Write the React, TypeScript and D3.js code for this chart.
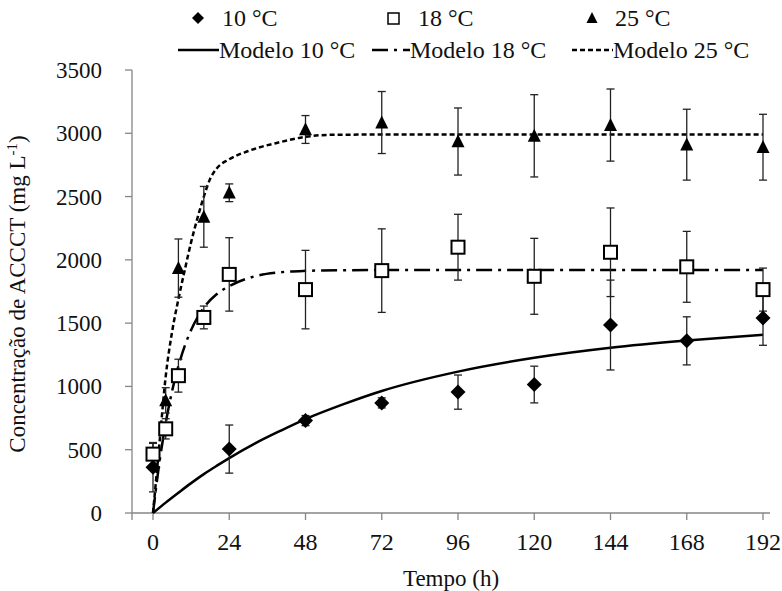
import React from "react";
import * as d3 from "d3";

const times10 = [0, 24, 48, 72, 96, 120, 144, 168, 192];
const mean10 = [362, 505, 730, 870, 955, 1015, 1485, 1360, 1540];
const err10 = [195, 190, 40, 40, 135, 145, 355, 190, 215];

const times18 = [0, 4, 8, 16, 24, 48, 72, 96, 120, 144, 168, 192];
const mean18 = [465, 665, 1085, 1545, 1885, 1765, 1915, 2100, 1870, 2060, 1945, 1765];
const err18 = [85, 80, 130, 90, 290, 310, 330, 260, 300, 350, 280, 170];

const times25 = [4, 8, 16, 24, 48, 72, 96, 120, 144, 168, 192];
const mean25 = [890, 1935, 2340, 2530, 3030, 3085, 2935, 2980, 3065, 2910, 2890];
const err25 = [100, 230, 240, 70, 110, 245, 265, 325, 285, 280, 260];

const model10T = [0, 4, 8, 12, 16, 20, 24, 32, 40, 48, 60, 72, 96, 120, 144, 168, 192];
const model10 = [0, 82, 160, 236, 307, 372, 434, 548, 648, 742, 860, 964, 1117, 1226, 1305, 1362, 1408];

const model18T = [0, 2, 4, 6, 8, 10, 12, 16, 20, 24, 32, 40, 48, 60, 72, 192];
const model18 = [0, 396, 711, 962, 1161, 1320, 1446, 1622, 1728, 1792, 1870, 1902, 1913, 1918, 1920, 1920];

const model25T = [0, 2, 4, 6, 8, 10, 12, 14, 16, 18, 20, 24, 30, 40, 48, 56, 72, 192];
const model25 = [0, 540, 1080, 1430, 1690, 1920, 2140, 2330, 2500, 2640, 2720, 2795, 2860, 2930, 2972, 2988, 2990, 2990];

const xTicks = [0, 24, 48, 72, 96, 120, 144, 168, 192];
const yTicks = [0, 500, 1000, 1500, 2000, 2500, 3000, 3500];

const FONT = '"Liberation Serif", "DejaVu Serif", serif';
const AXIS = "#868686";

export default function App() {
  const x = d3.scaleLinear().domain([0, 192]).range([153, 763]);
  const y = d3.scaleLinear().domain([0, 3500]).range([513, 70]);
  const axLeft = 132;
  const axRight = 770;

  const line = (ts: number[], vs: number[]) =>
    d3
      .line<number>()
      .x((_, i) => x(ts[i]))
      .y((v) => y(v))
      .curve(d3.curveMonotoneX)(vs) || "";

  const diamond = (cx: number, cy: number, r = 7.5) =>
    `M${cx},${cy - r}L${cx + r},${cy}L${cx},${cy + r}L${cx - r},${cy}Z`;
  const tri = (cx: number, cy: number, s = 13) =>
    `M${cx},${cy - s * 0.55}L${cx + s / 2},${cy + s * 0.45}L${cx - s / 2},${cy + s * 0.45}Z`;

  const errBars = (ts: number[], ms: number[], es: number[]) =>
    ts.map((t, i) => {
      const cx = x(t);
      const y1 = y(ms[i] + es[i]);
      const y2 = y(ms[i] - es[i]);
      return (
        <g key={i} stroke="#222" strokeWidth={1.3}>
          <line x1={cx} x2={cx} y1={y1} y2={y2} />
          <line x1={cx - 4} x2={cx + 4} y1={y1} y2={y1} />
          <line x1={cx - 4} x2={cx + 4} y1={y2} y2={y2} />
        </g>
      );
    });

  const dashDot = "16 6 3 6";
  const dashed = "5 3";
  const ts = { fontFamily: FONT, fontSize: 23 };
  const ls = { fontFamily: FONT, fontSize: 24 };

  return (
    <svg width={782} height={591} style={{ display: "block", position: "absolute", left: 0, top: 0, fontFamily: FONT }}>
      <rect width={782} height={591} fill="#fff" />
      {/* axes */}
      <g stroke={AXIS} strokeWidth={1.3}>
        <line x1={axLeft} x2={axLeft} y1={y(3500)} y2={520} />
        <line x1={axLeft} x2={axRight} y1={y(0)} y2={y(0)} />
        {yTicks.map((t) => (
          <line key={t} x1={axLeft - 7} x2={axLeft} y1={y(t)} y2={y(t)} />
        ))}
        {xTicks.map((t) => (
          <line key={t} x1={x(t)} x2={x(t)} y1={y(0)} y2={520} />
        ))}
      </g>
      <g fill="#111" style={ts}>
        {yTicks.map((t) => (
          <text key={t} x={102} y={y(t)} dy="0.35em" textAnchor="end" style={ts}>
            {t}
          </text>
        ))}
        {xTicks.map((t) => (
          <text key={t} x={x(t)} y={550} textAnchor="middle" style={ls}>
            {t}
          </text>
        ))}
        <text x={451} y={586} textAnchor="middle" style={ts}>
          Tempo (h)
        </text>
        <text transform="translate(25,294) rotate(-90)" textAnchor="middle" style={ts}>
          Concentração de ACCCT (mg L
          <tspan dy={-8} style={{ fontSize: 15 }}>-1</tspan>
          <tspan dy={8}>)</tspan>
        </text>
      </g>

      {/* model lines */}
      <path d={line(model10T, model10)} fill="none" stroke="#000" strokeWidth={2.5} />
      <path d={line(model18T, model18)} fill="none" stroke="#000" strokeWidth={2.5} strokeDasharray={dashDot} />
      <path d={line(model25T, model25)} fill="none" stroke="#000" strokeWidth={2.5} strokeDasharray={dashed} />

      {/* error bars */}
      {errBars(times10, mean10, err10)}
      {errBars(times18, mean18, err18)}
      {errBars(times25, mean25, err25)}

      {/* markers */}
      {times10.map((t, i) => (
        <path key={"d" + i} d={diamond(x(t), y(mean10[i]))} fill="#000" />
      ))}
      {times18.map((t, i) => (
        <rect key={"s" + i} x={x(t) - 6.5} y={y(mean18[i]) - 6.5} width={13} height={13} fill="#fff" stroke="#000" strokeWidth={2} />
      ))}
      {times25.map((t, i) => (
        <path key={"t" + i} d={tri(x(t), y(mean25[i]))} fill="#000" />
      ))}

      {/* legend */}
      <g fill="#111" style={ls}>
        <path d={diamond(198, 18, 6)} fill="#000" />
        <text x={222} y={26} style={ls}>10 °C</text>
        <rect x={388} y={13} width={11} height={11} fill="#fff" stroke="#000" strokeWidth={1.5} />
        <text x={418} y={26} style={ls}>18 °C</text>
        <path d={tri(592, 18, 11)} fill="#000" />
        <text x={615} y={26} style={ls}>25 °C</text>

        <line x1={178} x2={219} y1={50} y2={50} stroke="#000" strokeWidth={2.5} />
        <text x={219} y={58} style={ls}>Modelo 10 °C</text>
        <line x1={372} x2={410} y1={50} y2={50} stroke="#000" strokeWidth={2.5} strokeDasharray={dashDot} />
        <text x={410} y={58} style={ls}>Modelo 18 °C</text>
        <line x1={572} x2={613} y1={50} y2={50} stroke="#000" strokeWidth={2.5} strokeDasharray={dashed} />
        <text x={613} y={58} style={ls}>Modelo 25 °C</text>
      </g>
    </svg>
  );
}
